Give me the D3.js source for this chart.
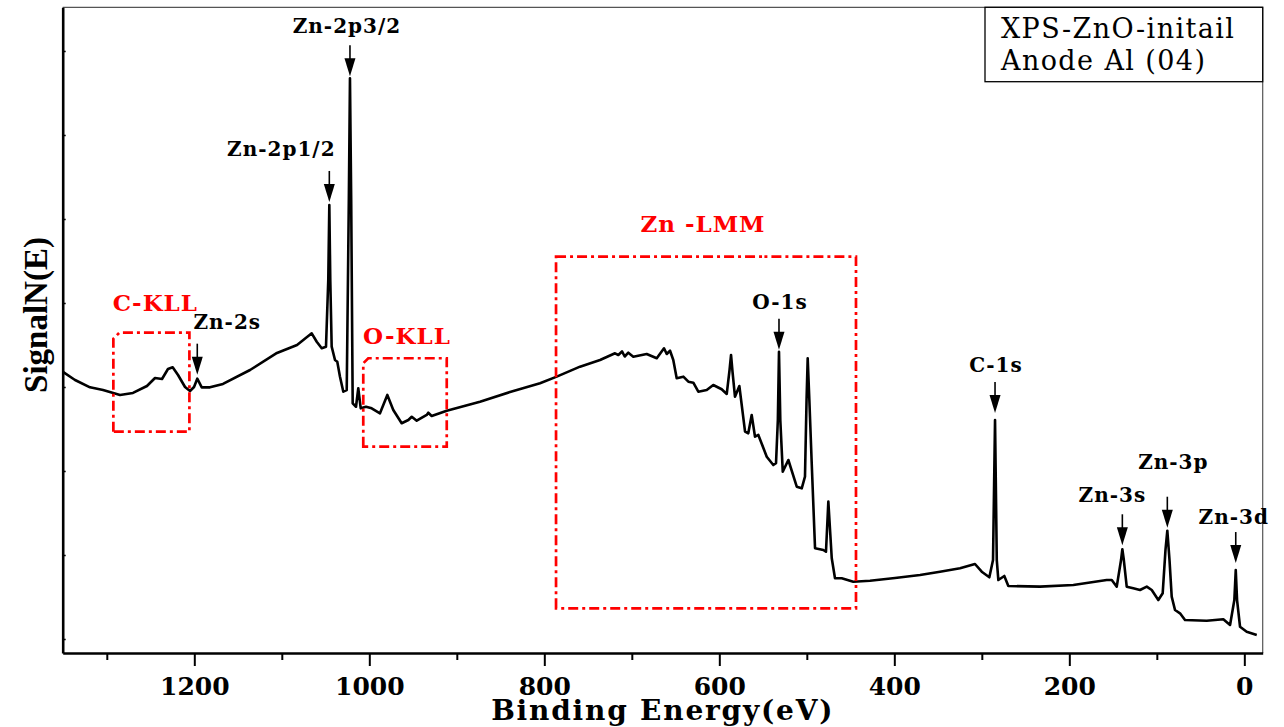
<!DOCTYPE html>
<html>
<head>
<meta charset="utf-8">
<script src="https://cdn.jsdelivr.net/npm/d3@7"></script>
<style>
body { margin: 0; background: #fff; }
svg { display: block; }
</style>
</head>
<body>
<div id="chart"></div>
<script>
// Survey spectrum: binding energy (eV) and signal (a.u.)
const energy = [1350.1,1336.3,1319.2,1304.3,1284.9,1270.1,1254.1,1244.9,1236.9,1230.1,
  1224.7,1218.6,1210.6,1204.9,1200.3,1196.6,1191.5,1182.1,1167.2,1136.3,
  1105.5,1082.6,1065.8,1060.1,1054.4,1049.5,1046.9,1045.7,1044.6,1043.0,
  1039.2,1036.6,1033.5,1029.7,1025.8,1023.4,1022.1,1020.7,1019.0,1015.2,
  1012.6,1009.8,1003.8,997.3,987.8,979.4,972.6,963.0,955.4,951.5,
  945.8,934.4,932.6,928.7,911.5,873.5,839.2,804.9,785.8,759.2,
  736.3,719.2,715.4,711.2,708.1,704.0,698.3,683.0,671.5,663.2,
  660.1,656.3,652.6,648.7,641.1,635.4,629.7,624.0,614.4,606.9,
  597.3,591.5,588.3,586.6,584.9,582.1,577.1,570.6,566.9,563.0,
  559.2,555.4,545.8,538.3,535.2,533.1,531.8,530.3,527.5,521.1,
  511.5,505.8,502.1,500.3,499.0,497.1,494.4,490.6,481.1,478.1,
  475.4,471.5,467.8,460.1,446.9,427.8,399.2,370.6,347.8,324.9,
  307.8,300.1,291.4,287.2,284.9,282.9,281.1,274.3,269.7,233.5,
  195.4,157.3,151.5,145.8,140.9,139.4,137.7,134.4,126.9,119.2,
  111.5,105.8,98.3,93.3,90.1,88.0,85.5,83.0,79.2,73.5,
  67.8,43.0,24.0,16.3,11.4,9.8,8.3,4.9,-2.7,-14.2];
const signal = [3.179,3.083,2.996,2.964,2.905,2.929,3.012,3.107,3.095,3.214,
  3.235,3.143,3.000,2.952,3.000,3.099,2.996,2.996,3.036,3.202,
  3.405,3.500,3.639,3.539,3.461,3.480,4.274,5.167,4.274,3.480,
  3.321,3.301,3.123,2.944,2.964,5.226,6.675,5.226,2.806,2.765,
  2.985,2.746,2.765,2.746,2.687,2.905,2.726,2.568,2.607,2.646,
  2.599,2.667,2.694,2.655,2.718,2.825,2.940,3.044,3.123,3.242,
  3.321,3.401,3.381,3.423,3.363,3.408,3.361,3.393,3.342,3.461,
  3.393,3.432,3.321,3.104,3.123,3.063,3.051,2.944,2.964,3.024,
  2.973,2.917,3.202,3.381,3.179,2.885,3.012,2.468,2.449,2.667,
  2.408,2.429,2.170,2.071,2.092,2.607,3.420,2.607,1.992,2.131,
  1.813,1.794,1.932,2.845,3.342,2.845,2.092,1.080,1.060,1.039,
  1.635,0.961,0.723,0.723,0.682,0.694,0.726,0.762,0.801,0.842,
  0.893,0.801,0.735,0.940,2.607,0.940,0.702,0.750,0.631,0.623,
  0.643,0.702,0.702,0.623,0.940,1.068,0.940,0.623,0.604,0.583,
  0.623,0.583,0.464,0.544,1.060,1.289,0.940,0.504,0.345,0.306,
  0.226,0.218,0.235,0.167,0.464,0.821,0.464,0.146,0.087,0.048];

const xTicks = [1200, 1000, 800, 600, 400, 200, 0];
const xMinorTicks = [1300, 1100, 900, 700, 500, 300, 100];
const yTicks = [0, 1, 2, 3, 4, 5, 6, 7];

// labelled peaks
const peakNames = ["Zn-2p3/2", "Zn-2p1/2", "Zn-2s", "O-1s", "C-1s", "Zn-3s", "Zn-3p", "Zn-3d"];
const peakEnergy = [1022.1, 1045.7, 1196.6, 531.8, 284.9, 139.4, 88.0, 9.8];

// Auger regions (boxed)
const regionNames = ["C-KLL", "O-KLL", "Zn -LMM"];
const regionEnergy = [[1292.5, 1205.6], [1006.9, 911.5], [786.6, 443.8]];
const regionSignal = [[2.468, 3.646], [2.289, 3.342], [0.365, 4.551]];

const legendLines = ["XPS-ZnO-initail", "Anode Al (04)"];

// layout only (offsets in px)
const peakLayout = [
  {dx: -3, gap: 12, tip: 2}, {dx: -48, gap: 15, tip: 3}, {dx: 30, gap: 15, tip: 4},
  {dx: 1, gap: 10, tip: 2}, {dx: 1, gap: 10, tip: 7}, {dx: -10, gap: 12, tip: 4},
  {dx: 6, gap: 28, tip: 3}, {dx: -2, gap: 8, tip: 7}
];
const regionLayout = [{dx: 4, gap: 22, bevel: 6}, {dx: 2, gap: 14, bevel: 5}, {dx: -3, gap: 25, bevel: 0}];

const W = 1284, H = 727;
const plotLeft = 62.7, plotRight = 1262.7, plotTop = 7.3, plotBottom = 653;

const svg = d3.select("#chart").append("svg")
  .attr("width", W)
  .attr("height", H);

const x = d3.scaleLinear().domain([1350.4, -21]).range([plotLeft, plotRight]);
const y = d3.scaleLinear().domain([-0.1667, 7.52]).range([plotBottom, plotTop]);

// thin frame top / right
svg.append("path")
  .attr("d", `M${plotLeft},${plotTop}H${plotRight}V${plotBottom}`)
  .attr("fill", "none")
  .attr("stroke", "#555")
  .attr("stroke-width", 1.2);

// minor x ticks
svg.append("g")
  .attr("transform", `translate(0,${plotBottom})`)
  .call(d3.axisBottom(x).tickValues(xMinorTicks).tickSize(7).tickFormat(""))
  .call(g => g.select(".domain").remove())
  .call(g => g.selectAll(".tick line").attr("stroke-width", 2));

// major x axis
const xAxis = svg.append("g")
  .attr("transform", `translate(0,${plotBottom})`)
  .call(d3.axisBottom(x).tickValues(xTicks).tickSize(13).tickSizeOuter(0).tickPadding(11).tickFormat(d3.format("d")));
xAxis.select(".domain").attr("stroke-width", 2.6);
xAxis.selectAll(".tick line").attr("stroke-width", 2);
xAxis.selectAll(".tick text")
  .attr("font-family", "DejaVu Serif")
  .attr("font-weight", "bold")
  .attr("font-size", 25)
  .attr("fill", "#000");

// y axis: inward ticks, no labels
const yAxis = svg.append("g")
  .attr("transform", `translate(${plotLeft},0)`)
  .call(d3.axisLeft(y).tickValues(yTicks).tickSize(-3).tickSizeOuter(0).tickFormat(""));
yAxis.select(".domain").attr("stroke-width", 2.6);
yAxis.selectAll(".tick line").attr("stroke-width", 1.5);

// axis titles
svg.append("text")
  .attr("x", (plotLeft + plotRight) / 2)
  .attr("y", 720)
  .attr("text-anchor", "middle")
  .attr("font-family", "DejaVu Serif")
  .attr("font-weight", "bold")
  .attr("font-size", 28)
  .attr("letter-spacing", 1.8)
  .text("Binding Energy(eV)");

svg.append("text")
  .attr("transform", "translate(47,315) rotate(-90)")
  .attr("text-anchor", "middle")
  .attr("font-family", "Liberation Serif")
  .attr("font-weight", "bold")
  .attr("font-size", 33)
  .text("SignalN(E)");

// spectrum
const points = energy.map((e, i) => [e, signal[i]]);
svg.append("path")
  .datum(points)
  .attr("fill", "none")
  .attr("stroke", "#000")
  .attr("stroke-width", 2.6)
  .attr("stroke-linejoin", "round")
  .attr("d", d3.line().x(d => x(d[0])).y(d => y(d[1])));

// region boxes
regionNames.forEach((name, i) => {
  const x0 = x(regionEnergy[i][0]), x1 = x(regionEnergy[i][1]);
  const y0 = y(regionSignal[i][1]), y1 = y(regionSignal[i][0]);
  const b = regionLayout[i].bevel;
  svg.append("path")
    .attr("d", `M${x0},${y1}V${y0 + b}L${x0 + b},${y0}H${x1}V${y1}Z`)
    .attr("fill", "none")
    .attr("stroke", "#f00")
    .attr("stroke-width", 2.7)
    .attr("stroke-dasharray", "10,4,3,4");
  svg.append("text")
    .attr("x", (x0 + x1) / 2 + regionLayout[i].dx)
    .attr("y", y0 - regionLayout[i].gap)
    .attr("text-anchor", "middle")
    .attr("font-family", "DejaVu Serif")
    .attr("font-weight", "bold")
    .attr("font-size", 23)
    .attr("letter-spacing", 1)
    .attr("fill", "#f00")
    .text(name);
});

// peak arrows and labels
const peakTop = e => {
  let best = -Infinity;
  energy.forEach((v, i) => { if (Math.abs(v - e) < 2 && signal[i] > best) best = signal[i]; });
  return best;
};
peakNames.forEach((name, i) => {
  const lay = peakLayout[i];
  const px = x(peakEnergy[i]);
  const tipY = y(peakTop(peakEnergy[i])) - lay.tip;
  const arrowTop = tipY - 31;
  svg.append("line")
    .attr("x1", px).attr("x2", px)
    .attr("y1", arrowTop).attr("y2", tipY - 15)
    .attr("stroke", "#000")
    .attr("stroke-width", 1.6);
  svg.append("path")
    .attr("d", `M${px - 5.5},${tipY - 18}L${px + 5.5},${tipY - 18}L${px},${tipY}Z`)
    .attr("fill", "#000");
  svg.append("text")
    .attr("x", px + lay.dx)
    .attr("y", arrowTop - lay.gap)
    .attr("text-anchor", "middle")
    .attr("font-family", "DejaVu Serif")
    .attr("font-weight", "bold")
    .attr("font-size", 20)
    .attr("letter-spacing", 1)
    .attr("fill", "#000")
    .text(name);
});

// legend box
svg.append("rect")
  .attr("x", 985).attr("y", plotTop)
  .attr("width", plotRight - 985).attr("height", 74.4)
  .attr("fill", "#fff")
  .attr("stroke", "#000")
  .attr("stroke-width", 1.3);
svg.selectAll(".legend-line")
  .data(legendLines)
  .enter()
  .append("text")
  .attr("class", "legend-line")
  .attr("x", 1001)
  .attr("y", (d, i) => 38 + i * 32)
  .attr("font-family", "DejaVu Serif")
  .attr("font-size", 27)
  .attr("letter-spacing", 1.4)
  .text(d => d);
</script>
</body>
</html>
